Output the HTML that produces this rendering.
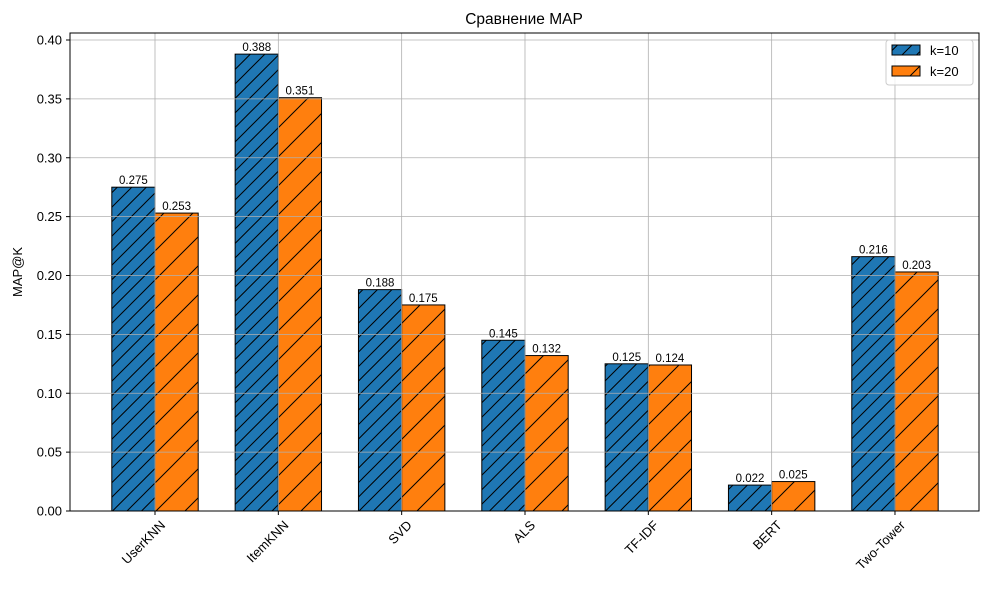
<!DOCTYPE html>
<html><head><meta charset="utf-8"><style>
body{margin:0;background:#fff;}
svg text{font-family:"Liberation Sans","DejaVu Sans",sans-serif;}
</style></head><body>
<svg id="chart" width="989" height="590" xmlns="http://www.w3.org/2000/svg">
<defs>
<pattern id="h10" patternUnits="userSpaceOnUse" width="14.5" height="14.5">
<rect width="14.5" height="14.5" fill="#1f77b4"/>
<path d="M-2,16.5 L16.5,-2 M-2,2 L2,-2 M12.5,16.5 L16.5,12.5" stroke="#000" stroke-width="1"/>
</pattern>
<pattern id="h20" patternUnits="userSpaceOnUse" width="29" height="29">
<rect width="29" height="29" fill="#ff7f0e"/>
<path d="M-2,31 L31,-2 M-2,2 L2,-2 M27,31 L31,27" stroke="#000" stroke-width="1"/>
</pattern>
</defs>
<g id="bars"></g>
<g id="grid"></g>
<g id="labels"></g>
<rect x="70" y="33" width="909" height="478" fill="none" stroke="#000" stroke-width="1"/>
<g id="axes"></g>
<text x="524" y="24" text-anchor="middle" font-size="15.5">Сравнение MAP</text>
<text transform="translate(22,272) rotate(-90)" text-anchor="middle" font-size="13">MAP@K</text>
<g>
<rect x="886" y="40" width="87" height="45" rx="3" fill="#fff" fill-opacity="0.8" stroke="#ccc"/>
<g><rect x="892" y="45" width="28" height="10" fill="url(#h10)" stroke="#000"/><text x="930" y="55" font-size="13">k=10</text></g>
<g><rect x="892" y="66" width="28" height="10" fill="url(#h20)" stroke="#000"/><text x="930" y="76" font-size="13">k=20</text></g>
</g>
</svg>
<script>
const categories=["UserKNN","ItemKNN","SVD","ALS","TF-IDF","BERT","Two-Tower"];
const k10=[0.275,0.388,0.188,0.145,0.125,0.022,0.216];
const k20=[0.253,0.351,0.175,0.132,0.124,0.025,0.203];
const yTicks=[0,0.05,0.10,0.15,0.20,0.25,0.30,0.35,0.40];
const NS="http://www.w3.org/2000/svg";
const y=v=>511-v*1177.5;
const xc=i=>155+i*123.33;
const bw=43.2;
function mk(t,a,p){const e=document.createElementNS(NS,t);for(const k in a)e.setAttribute(k,a[k]);p.appendChild(e);return e;}
const bars=document.getElementById('bars'),grid=document.getElementById('grid'),lab=document.getElementById('labels'),axes=document.getElementById('axes');
categories.forEach((c,i)=>{
 [[k10,'h10',-1,'k10'],[k20,'h20',0,'k20']].forEach(([arr,pat,off,nm])=>{
  const v=arr[i],x0=xc(i)+off*bw;
  const r=mk('rect',{x:x0,y:y(v),width:bw,height:511-y(v),fill:`url(#${pat})`,stroke:'#000','stroke-width':1},bars);
  
  
  const t=mk('text',{x:x0+bw/2,y:y(v)-3,'text-anchor':'middle','font-size':11.5},lab);
  t.textContent=v.toFixed(3);
  
  
 });
 const gx=xc(i);
 const gl=mk('line',{x1:gx,x2:gx,y1:33,y2:511,stroke:'#b0b0b0','stroke-width':0.8},grid);
 
 
 mk('line',{x1:gx,x2:gx,y1:511,y2:515,stroke:'#000'},axes);
 const t=mk('text',{x:0,y:0,'text-anchor':'end','font-size':13,transform:`translate(${gx+11},${526}) rotate(-45)`},axes);
 t.textContent=c;
 
 
});
yTicks.forEach(v=>{
 const yy=y(v);
 const gl=mk('line',{x1:70,x2:979,y1:yy,y2:yy,stroke:'#b0b0b0','stroke-width':0.8},grid);
 
 
 mk('line',{x1:66,x2:70,y1:yy,y2:yy,stroke:'#000'},axes);
 const t=mk('text',{x:62,y:yy+4.5,'text-anchor':'end','font-size':13},axes);
 t.textContent=v.toFixed(2);
 
 
});
</script>
</body></html>
